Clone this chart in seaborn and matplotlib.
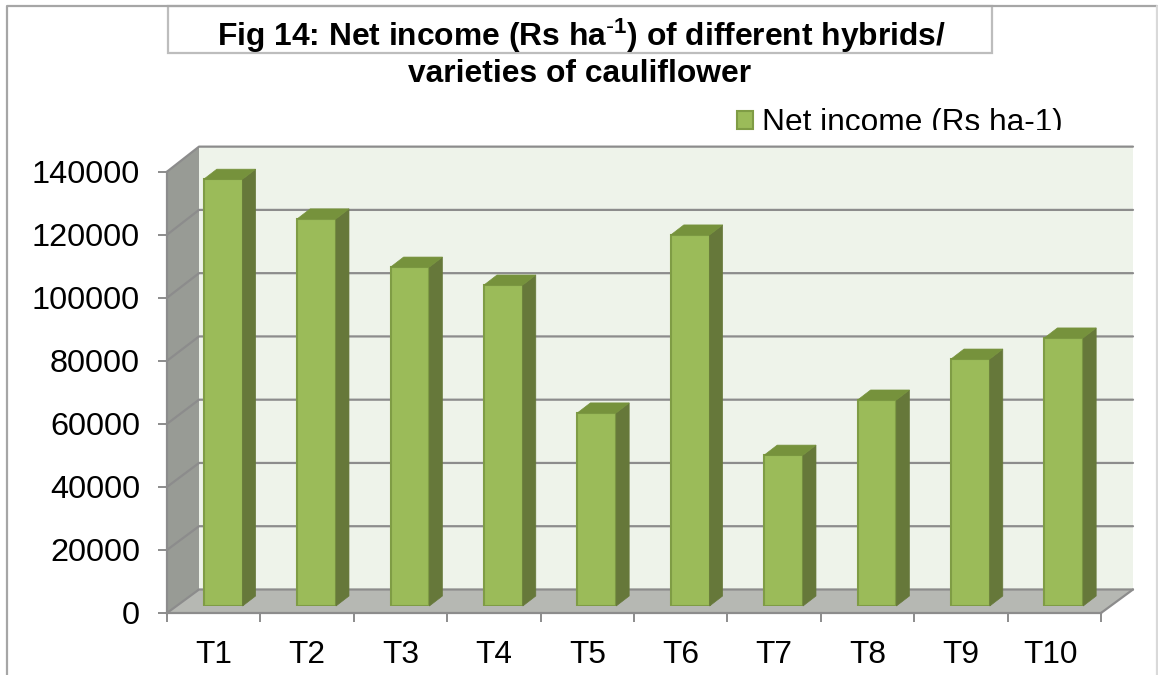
# Net income of cauliflower hybrids, Excel style 3D columns
import matplotlib
matplotlib.use("Agg")
import matplotlib.pyplot as plt
from matplotlib.patches import Polygon, Rectangle
from matplotlib.transforms import ScaledTranslation
import pandas as pd
import seaborn as sns

# -----------------------------
# DATA
# -----------------------------
treatments = ["T1", "T2", "T3", "T4", "T5", "T6", "T7", "T8", "T9", "T10"]
net_income = [135500, 122900, 107600, 101900, 61300, 117800, 47900, 65400, 78400, 85100]
y_ticks = [0, 20000, 40000, 60000, 80000, 100000, 120000, 140000]
series_name = "Net income (Rs ha-1)"

df = pd.DataFrame({"treatment": treatments, "income": net_income})

# -----------------------------
# LAYOUT (pixels of the 1158x675 picture)
# -----------------------------
W, H = 1158, 675
sns.set_theme(style="white")
plt.rcParams["font.family"] = ["Liberation Sans", "DejaVu Sans"]
plt.rcParams["mathtext.default"] = "regular"


def box(left, top, right, bottom):
    return [left / W, 1 - bottom / H, (right - left) / W, (bottom - top) / H]


fig = plt.figure(figsize=(W / 100, H / 100), dpi=100, facecolor="white")

# figure border and title box
fig.add_artist(plt.Line2D([7 / W, 7 / W, 1156.5 / W],
                          [0, 1 - 6 / H, 1 - 6 / H], color="#A6A6A6", lw=1.6))
fig.add_artist(plt.Line2D([1156.5 / W, 1156.5 / W], [1 - 6 / H, 0], color="#D9D9D9", lw=1.6))
fig.add_artist(Rectangle((168 / W, 1 - 53 / H), 824 / W, 47 / H, transform=fig.transFigure,
                         facecolor="white", edgecolor="#BDBDBD", lw=1.6))

ax = fig.add_axes(box(167, 171.7, 1101, 613))
ax_bars = fig.add_axes(box(176.5, 165, 1110.5, 606))
ax_bars.patch.set_alpha(0)

# -----------------------------
# COLUMNS
# -----------------------------
sns.barplot(data=df, x="treatment", y="income", ax=ax_bars, color="#9BBB59",
            saturation=1, width=0.415, edgecolor="#7F9C45", linewidth=1.5,
            label=series_name)
ax_bars.set_ylim(0, 140000)
ax_bars.set_xlim(-0.5, 9.5)
ax_bars.axis("off")

# side and top faces of each column
bar_dx, bar_dy = 13 / 93.4, 10 / 63 * 20000
for bar in list(ax_bars.patches):
    x0, w, h = bar.get_x(), bar.get_width(), bar.get_height()
    x1 = x0 + w
    ax_bars.add_patch(Polygon([(x1, 0), (x1 + bar_dx, bar_dy), (x1 + bar_dx, h + bar_dy), (x1, h)],
                              facecolor="#66783A", edgecolor="#66783A", lw=0.5, clip_on=False))
    ax_bars.add_patch(Polygon([(x0, h), (x0 + bar_dx, h + bar_dy), (x1 + bar_dx, h + bar_dy), (x1, h)],
                              facecolor="#76923C", edgecolor="#76923C", lw=0.5, clip_on=False))

# -----------------------------
# WALLS AND FLOOR
# -----------------------------
ax.set_xlim(-0.5, 9.5)
ax.set_ylim(0, 140000)
wall_dx, wall_dy = 32 / 93.4, 23.5 / 63 * 20000
back_scale = 1.0035  # back wall is a touch taller than the front plane
x_l, x_r = -0.5, 9.5
top = y_ticks[-1]
back_top = top * back_scale + wall_dy
grid = "#8C8C8C"

ax.add_patch(Polygon([(x_l + wall_dx, wall_dy), (x_r + wall_dx, wall_dy),
                      (x_r + wall_dx, back_top), (x_l + wall_dx, back_top)],
                     facecolor="#EEF3EA", edgecolor="none", clip_on=False, zorder=1))
ax.add_patch(Polygon([(x_l, 0), (x_l + wall_dx, wall_dy), (x_l + wall_dx, back_top), (x_l, top)],
                     facecolor="#989B95", edgecolor="none", clip_on=False, zorder=1))
ax.add_patch(Polygon([(x_l, 0), (x_l + wall_dx, wall_dy), (x_r + wall_dx, wall_dy), (x_r, 0)],
                     facecolor="#B6B8B3", edgecolor="none", clip_on=False, zorder=1))

for v in y_ticks:
    back = v * back_scale + wall_dy
    ax.plot([x_l, x_l + wall_dx, x_r + wall_dx], [v, back, back],
            color=grid, lw=1.6, clip_on=False, zorder=2)
ax.plot([x_r, x_r + wall_dx], [0, wall_dy], color=grid, lw=1.6, clip_on=False, zorder=2)

# -----------------------------
# AXES
# -----------------------------
ax.patch.set_alpha(0)
sns.despine(ax=ax, top=True, right=True)
for side in ["left", "bottom"]:
    ax.spines[side].set_color(grid)
    ax.spines[side].set_linewidth(1.6)
ax.set_yticks(y_ticks)
ax.set_xticks(range(len(treatments)))
ax.set_xticklabels(treatments)
ax.set_xticks([i - 0.5 for i in range(len(treatments) + 1)], minor=True)
ax.tick_params(axis="x", which="major", length=0, labelsize=22.8, pad=19.5, labelcolor="black")
ax.tick_params(axis="x", which="minor", length=6.5, width=1.4, color=grid, bottom=True)
ax.tick_params(axis="y", length=6.5, width=1.4, color=grid, left=True, labelsize=23.4, pad=13,
               labelcolor="black")

# the two digit label sits left of its slot in the original
nudge = ScaledTranslation(-4 / 100, 0, fig.dpi_scale_trans)
last = ax.get_xticklabels()[-1]
last.set_transform(last.get_transform() + nudge)

# -----------------------------
# TITLE AND LEGEND
# -----------------------------
fig.text(581 / W, 1 - 46 / H, r"Fig 14: Net income (Rs ha$^{\text{-}1}$) of different hybrids/",
         ha="center", va="baseline", fontsize=22.85, fontweight="bold", color="black")
fig.text(580 / W, 1 - 81.7 / H, "varieties of cauliflower",
         ha="center", va="baseline", fontsize=22.85, fontweight="bold", color="black")

handles, labels = ax_bars.get_legend_handles_labels()
leg = ax_bars.legend(handles[:1], labels[:1], loc="center left", frameon=False,
                     bbox_to_anchor=(737 / W, 1 - 123 / H), bbox_transform=fig.transFigure,
                     fontsize=22.8, handlelength=0.5, handleheight=0.5, handletextpad=0.3,
                     borderpad=0, borderaxespad=0, labelcolor="black")
# the legend text is cut off at its lower edge in the original
cut = Rectangle((0, 1 - 130 / H), 1, 130 / H, transform=fig.transFigure)
for t in leg.get_texts():
    t.set_clip_path(cut)
    t.set_clip_on(True)

fig.savefig("out.png", dpi=100)
